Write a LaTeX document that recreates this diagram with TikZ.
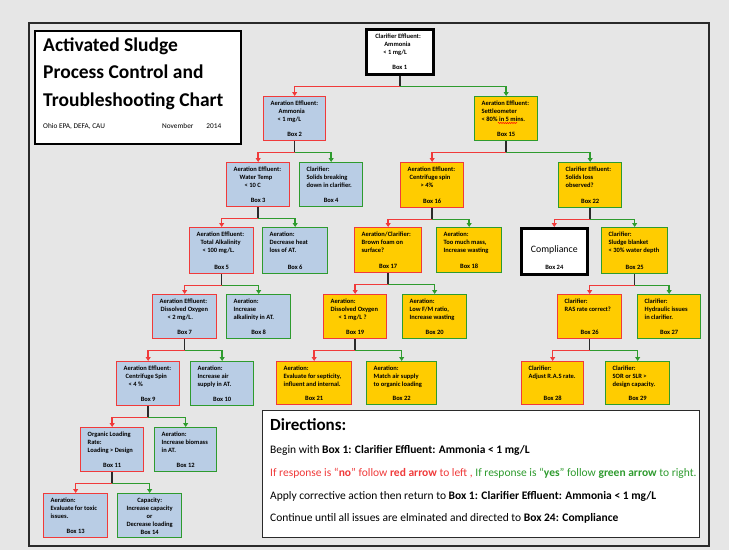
\documentclass[tikz,border=0pt]{standalone}
\usepackage{fontspec}
\setmainfont{Carlito}
\usetikzlibrary{arrows.meta,decorations.pathmorphing}

\definecolor{bg}{HTML}{E6E6E6}
\definecolor{boxblue}{HTML}{B9CDE5}
\definecolor{boxyellow}{HTML}{FFCC00}
\definecolor{nored}{HTML}{F03A3A}
\definecolor{yesgreen}{HTML}{2E9B2E}
\definecolor{stemgray}{HTML}{2A2A2A}

\tikzset{
  x=1pt, y=-1pt,
  bx/.style={draw, line width=1.3pt, inner sep=0pt, text=black,
             font=\fontsize{6.5}{8}\selectfont\bfseries},
  noblue/.style={bx, fill=boxblue, draw=nored},
  yesblue/.style={bx, fill=boxblue, draw=yesgreen},
  noyel/.style={bx, fill=boxyellow, draw=nored},
  yesyel/.style={bx, fill=boxyellow, draw=yesgreen},
  keybox/.style={bx, fill=white, draw=black, line width=2.6pt},
  stem/.style={draw=stemgray, line width=1.4pt},
  noarrow/.style={draw=nored, line width=1.4pt, -{Triangle[length=4pt,width=5pt]}},
  yesarrow/.style={draw=yesgreen, line width=1.4pt, -{Triangle[length=4pt,width=5pt]}},
  titletext/.style={anchor=base west, inner sep=0pt, font=\fontsize{19.5}{22}\selectfont\bfseries},
  smalltext/.style={anchor=base west, inner sep=0pt, font=\fontsize{7.3}{9}\selectfont},
  dirhead/.style={anchor=base west, inner sep=0pt, font=\fontsize{17}{20}\selectfont\bfseries},
  dirtext/.style={anchor=base west, inner sep=0pt, font=\fontsize{11.5}{14}\selectfont},
}

% chart box: name, style, x1, y1, x2, y2, question text, box label
\newcommand{\chartbox}[8]{%
  \pgfmathsetmacro{\bw}{#5-#3}\pgfmathsetmacro{\bh}{#6-#4}%
  \pgfmathsetmacro{\tw}{\bw-14}\pgfmathsetmacro{\th}{\bh-9}%
  \node[#2, minimum width=\bw pt, minimum height=\bh pt, anchor=north west] (#1) at (#3,#4)
    {\parbox[c][\th pt][t]{\tw pt}{\raggedright #7\par\vfill\centering #8}};%
}
% no/yes branch below a parent box
\newcommand{\branch}[3]{%
  \coordinate (#1-split) at ([yshift=-11pt]#1.south);
  \draw[stem] (#1.south) -- (#1-split);
  \draw[noarrow] (#1-split) -| (#2.north);
  \draw[yesarrow] (#1-split) -| (#3.north);
}
\newcommand{\ind}[1]{\hspace*{#1pt}}

\begin{document}
\begin{tikzpicture}
\useasboundingbox (0,0) rectangle (729,550);
\fill[bg] (0,0) rectangle (729,550);
\draw[stemgray, line width=2.5pt] (29,23) rectangle (709,546);

% title block
\node[draw=black, line width=1.5pt, fill=white, minimum width=206pt, minimum height=113pt,
      anchor=north west, inner sep=0pt] (title) at (34,30) {};
\node[titletext] (t1) at (43,51) {Activated Sludge};
\node[titletext] (t2) at (43,78.5) {Process Control and};
\node[titletext] (t3) at (43,106) {Troubleshooting Chart};
\node[smalltext] (org) at (43,128.5) {Ohio EPA, DEFA, CAU};
\node[smalltext] (date) at (162,128.5) {November\hspace{13pt}2014};

% boxes
\chartbox{b1}{keybox}{365}{28}{432}{73}{\ind{2}Clarifier Effluent:\\\ind{11}Ammonia\\\ind{10}< 1 mg/L}{Box 1}
\chartbox{b2}{noblue}{263}{96}{325}{140}{Aeration Effluent:\\\ind{8}Ammonia\\\ind{7}< 1 mg/L}{Box 2}
\chartbox{b15}{yesyel}{474}{96}{537}{140}{Aeration Effluent:\\Settleometer\\< 80\% in 5 mins.}{Box 15}
\chartbox{b3}{noblue}{226}{162}{289}{206}{Aeration Effluent:\\\ind{6}Water Temp\\\ind{11}< 10 C}{Box 3}
\chartbox{b4}{yesblue}{299}{162}{362}{206}{Clarifier:\\Solids breaking\\down in clarifier.}{Box 4}
\chartbox{b16}{noyel}{400}{162}{463}{207}{Aeration Effluent:\\\ind{2}Centrifuge spin\\\ind{13}> 4\%}{Box 16}
\chartbox{b22a}{yesyel}{558}{162}{621}{207}{Clarifier Effluent:\\Solids loss\\observed?}{Box 22}
\chartbox{b5}{noblue}{189}{227}{253}{273}{Aeration Effluent:\\\ind{4}Total Alkalinity\\\ind{6}< 100 mg/L.}{Box 5}
\chartbox{b6}{yesblue}{262}{227}{327}{273}{Aeration:\\Decrease heat\\loss of AT.}{Box 6}
\chartbox{b17}{noyel}{354}{227}{421}{272}{Aeration/Clarifier:\\Brown foam on\\surface?}{Box 17}
\chartbox{b18}{yesyel}{436}{227}{501}{272}{Aeration:\\Too much mass,\\Increase wasting}{Box 18}
\chartbox{b24}{keybox}{520}{227}{586}{273}{\centering\vspace*{13pt}{\mdseries\fontsize{9.8}{10}\selectfont Compliance}}{Box 24}
\chartbox{b25}{yesyel}{601}{227}{667}{273}{Clarifier:\\Sludge blanket\\< 30\% water depth}{Box 25}
\chartbox{b7}{noblue}{152}{294}{216}{338}{Aeration Effluent:\\\ind{1}Dissolved Oxygen\\\ind{8}< 2 mg/L.}{Box 7}
\chartbox{b8}{yesblue}{226}{294}{290}{338}{Aeration:\\Increase\\alkalinity in AT.}{Box 8}
\chartbox{b19}{noyel}{323}{294}{386}{338}{Aeration:\\Dissolved Oxygen\\\ind{8}< 1 mg/L ?}{Box 19}
\chartbox{b20}{yesyel}{402}{294}{466}{338}{Aeration:\\Low F/M ratio,\\Increase wasting}{Box 20}
\chartbox{b26}{noyel}{557}{294}{621}{338}{Clarifier:\\RAS rate correct?}{Box 26}
\chartbox{b27}{yesyel}{637}{294}{700}{338}{Clarifier:\\Hydraulic issues\\in clarifier.}{Box 27}
\chartbox{b9}{noblue}{116}{361}{179}{405}{Aeration Effluent:\\\ind{2}Centrifuge Spin\\\ind{5}< 4 \%}{Box 9}
\chartbox{b10}{yesblue}{190}{361}{253}{405}{Aeration:\\Increase air\\supply in AT.}{Box 10}
\chartbox{b21}{noyel}{276}{361}{351}{404}{Aeration:\\Evaluate for septicity,\\influent and internal.}{Box 21}
\chartbox{b22b}{yesyel}{366}{361}{436}{404}{Aeration:\\Match air supply\\to organic loading}{Box 22}
\chartbox{b28}{noyel}{521}{361}{583}{404}{Clarifier:\\Adjust R.A.S rate.}{Box 28}
\chartbox{b29}{yesyel}{605}{361}{669}{404}{Clarifier:\\SOR or SLR >\\design capacity.}{Box 29}
\chartbox{b11}{noblue}{80}{427}{143}{471}{Organic Loading\\Rate:\\Loading > Design}{Box 11}
\chartbox{b12}{yesblue}{154}{427}{216}{471}{Aeration:\\Increase biomass\\in AT.}{Box 12}
\chartbox{b13}{noblue}{43}{493}{107}{537}{Aeration:\\Evaluate for toxic\\issues.}{Box 13}
\chartbox{b14}{yesblue}{117}{493}{181}{537}{\centering Capacity:\\Increase capacity\\or\\Decrease loading}{Box 14}

% spell-check underline under "mins."
\draw[red, line width=0.5pt, decorate, decoration={snake, amplitude=0.6pt, segment length=2.2pt}]
  ([xshift=24pt,yshift=-27pt]b15.north west) -- ++(19pt,0pt);

% decision branches
\branch{b1}{b2}{b15}
\branch{b2}{b3}{b4}
\branch{b15}{b16}{b22a}
\branch{b3}{b5}{b6}
\branch{b16}{b17}{b18}
\branch{b22a}{b24}{b25}
\branch{b5}{b7}{b8}
\branch{b17}{b19}{b20}
\branch{b25}{b26}{b27}
\branch{b7}{b9}{b10}
\branch{b19}{b21}{b22b}
\branch{b26}{b28}{b29}
\branch{b9}{b11}{b12}
\branch{b11}{b13}{b14}

% directions
\node[draw=stemgray, line width=1.3pt, fill=white, minimum width=437pt, minimum height=127pt,
      anchor=north west, inner sep=0pt] (dirbox) at (262,410) {};
\node[dirhead] (dh) at (270,430) {Directions:};
\node[dirtext] (d1) at (270,453) {Begin with \textbf{Box 1: Clarifier Effluent: Ammonia < 1 mg/L}};
\node[dirtext, text=nored] (d2) at (270,476) {If response is “\textbf{no}” follow \textbf{red arrow} to left ,
  \textcolor{yesgreen}{If response is “\textbf{yes}” follow \textbf{green arrow} to right.}};
\node[dirtext] (d3) at (270,499) {Apply corrective action then return to \textbf{Box 1: Clarifier Effluent: Ammonia < 1 mg/L}};
\node[dirtext] (d4) at (270,521) {Continue until all issues are elminated and directed to \textbf{Box 24: Compliance}};
\end{tikzpicture}
\end{document}
